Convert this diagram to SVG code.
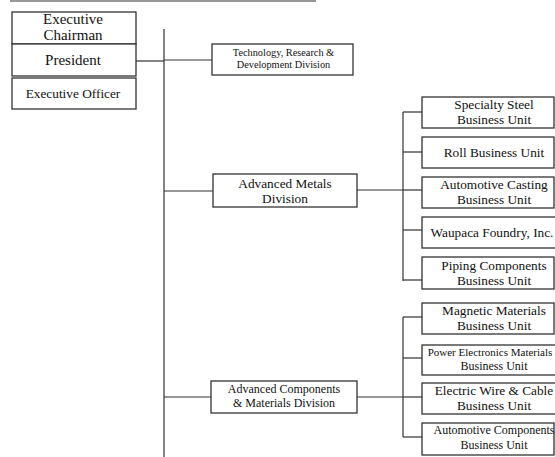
<svg xmlns="http://www.w3.org/2000/svg" width="555" height="457" viewBox="0 0 555 457">
<style>
.box{fill:#fff;stroke:#333;stroke-width:1.3}
.ln{stroke:#333;stroke-width:1.2;fill:none}
.tx text{fill:#111;text-anchor:middle}
.t15{font-size:15px}
.t13{font-size:13.3px}
.t12{font-size:12px}
.t11{font-size:11px}
.t10{font-size:10.3px}
</style>
<rect width="555" height="457" fill="#fff"/>
<g id="connectors">
<line class="ln" x1="10" y1="1" x2="316" y2="1"/>
<line class="ln" x1="164" y1="29" x2="164" y2="457"/>
<line class="ln" x1="136" y1="61" x2="164" y2="61"/>
<line class="ln" x1="164" y1="60" x2="212" y2="60"/>
<line class="ln" x1="164" y1="191" x2="213" y2="191"/>
<line class="ln" x1="164" y1="397" x2="211" y2="397"/>
<line class="ln" x1="357" y1="190" x2="403" y2="190"/>
<line class="ln" x1="403" y1="112" x2="403" y2="281"/>
<line class="ln" x1="403" y1="112" x2="422" y2="112"/>
<line class="ln" x1="403" y1="152" x2="422" y2="152"/>
<line class="ln" x1="403" y1="190" x2="422" y2="190"/>
<line class="ln" x1="403" y1="230" x2="422" y2="230"/>
<line class="ln" x1="403" y1="280" x2="422" y2="280"/>
<line class="ln" x1="357" y1="397" x2="403" y2="397"/>
<line class="ln" x1="403" y1="317" x2="403" y2="437"/>
<line class="ln" x1="403" y1="317" x2="422" y2="317"/>
<line class="ln" x1="403" y1="358" x2="422" y2="358"/>
<line class="ln" x1="403" y1="397" x2="422" y2="397"/>
<line class="ln" x1="403" y1="437" x2="422" y2="437"/>
</g>
<g class="tx" font-family="Liberation Serif, DejaVu Serif, Times New Roman, serif">
<g id="chairman"><rect class="box" x="12" y="12" width="124" height="32"/><text class="t15" x="73" y="24">Executive</text><text class="t15" x="73" y="40">Chairman</text></g>
<g id="president"><rect class="box" x="12" y="44" width="124" height="32"/><text class="t15" x="73" y="65">President</text></g>
<g id="officer"><rect class="box" x="12" y="78" width="124" height="31"/><text class="t13" x="73" y="98">Executive Officer</text></g>
<g id="tech"><rect class="box" x="212" y="44" width="141" height="31"/><text class="t10" x="283.5" y="56">Technology, Research &amp;</text><text class="t10" x="283.5" y="68">Development Division</text></g>
<g id="metals"><rect class="box" x="213" y="174" width="144" height="33"/><text class="t13" x="285" y="188">Advanced Metals</text><text class="t13" x="285" y="203">Division</text></g>
<g id="components"><rect class="box" x="211" y="381" width="146" height="32"/><text class="t12" x="284" y="393">Advanced Components</text><text class="t12" x="284" y="407">&amp; Materials Division</text></g>
<g id="specialty"><rect class="box" x="422" y="97" width="132" height="31"/><text class="t13" x="494" y="109">Specialty Steel</text><text class="t13" x="494" y="124">Business Unit</text></g>
<g id="roll"><rect class="box" x="422" y="137" width="132" height="31"/><text class="t13" x="494" y="157">Roll Business Unit</text></g>
<g id="casting"><rect class="box" x="422" y="177" width="132" height="31"/><text class="t13" x="494" y="189">Automotive Casting</text><text class="t13" x="494" y="204">Business Unit</text></g>
<g id="waupaca"><rect class="box" x="422" y="217" width="145" height="31"/><text class="t13" x="492" y="237">Waupaca Foundry, Inc.</text></g>
<g id="piping"><rect class="box" x="422" y="257" width="132" height="32"/><text class="t13" x="494" y="270">Piping Components</text><text class="t13" x="494" y="285">Business Unit</text></g>
<g id="magnetic"><rect class="box" x="422" y="303" width="132" height="31"/><text class="t13" x="494" y="315">Magnetic Materials</text><text class="t13" x="494" y="330">Business Unit</text></g>
<g id="power"><rect class="box" x="422" y="345" width="145" height="30"/><text class="t11" x="490" y="356">Power Electronics Materials</text><text class="t12" x="494" y="370">Business Unit</text></g>
<g id="wire"><rect class="box" x="422" y="383" width="145" height="31"/><text class="t13" x="494" y="395">Electric Wire &amp; Cable</text><text class="t13" x="494" y="410">Business Unit</text></g>
<g id="autocomp"><rect class="box" x="422" y="423" width="132" height="32"/><text class="t12" x="494" y="434">Automotive Components</text><text class="t12" x="494" y="449">Business Unit</text></g>
</g>
</svg>
